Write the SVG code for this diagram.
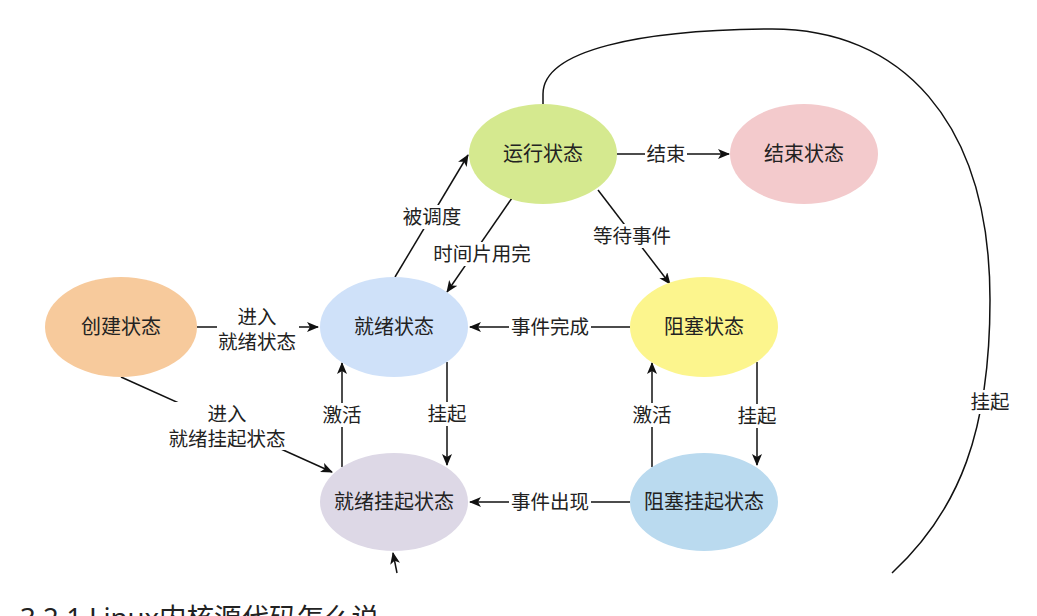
<svg xmlns="http://www.w3.org/2000/svg" width="1037" height="616" viewBox="0 0 1037 616">
<defs>
<marker id="arr" viewBox="0 0 12 10" refX="11" refY="5" markerWidth="12" markerHeight="10" markerUnits="userSpaceOnUse" orient="auto">
<path d="M0,0 L12,5 L0,10 L3,5 Z" fill="#111"/>
</marker>
<style>
.node text{font-family:"Noto Sans CJK SC","Noto Sans",sans-serif;font-size:20px;fill:#222;text-anchor:middle}
.edge{fill:none;stroke:#111;stroke-width:1.5}
.lbl{font-family:"Noto Sans CJK SC","Noto Sans",sans-serif;font-size:19.5px;fill:#222;text-anchor:middle}
.bg{fill:#fff}
</style>
</defs>
<rect width="1037" height="616" fill="#fff"/>

<g id="connectors">
<line class="edge" x1="197" y1="327" x2="318" y2="327" marker-end="url(#arr)"/>
<line class="edge" x1="121" y1="377" x2="332" y2="472" marker-end="url(#arr)"/>
<line class="edge" x1="395" y1="277" x2="468" y2="155" marker-end="url(#arr)"/>
<line class="edge" x1="512" y1="198" x2="447" y2="292" marker-end="url(#arr)"/>
<line class="edge" x1="617" y1="154" x2="729" y2="154" marker-end="url(#arr)"/>
<line class="edge" x1="598" y1="190" x2="670" y2="284" marker-end="url(#arr)"/>
<line class="edge" x1="630" y1="327" x2="470" y2="327" marker-end="url(#arr)"/>
<line class="edge" x1="447" y1="362" x2="447" y2="465" marker-end="url(#arr)"/>
<line class="edge" x1="342" y1="467" x2="342" y2="363" marker-end="url(#arr)"/>
<line class="edge" x1="630" y1="502" x2="470" y2="502" marker-end="url(#arr)"/>
<line class="edge" x1="757" y1="362" x2="757" y2="465" marker-end="url(#arr)"/>
<line class="edge" x1="652" y1="467" x2="652" y2="363" marker-end="url(#arr)"/>
<path class="edge" d="M543,104 L543,94 C543,50 640,30 770,29 C900,28 990,120 990,300 C990,430 960,510 892,573"/>
<line class="edge" x1="397" y1="573" x2="393" y2="553" marker-end="url(#arr)"/>

<rect class="bg" x="217" y="305" width="82" height="50"/>
<text class="lbl" x="257" y="324">进入</text>
<text class="lbl" x="257" y="349">就绪状态</text>

<rect class="bg" x="166" y="402" width="122" height="48"/>
<text class="lbl" x="227" y="421">进入</text>
<text class="lbl" x="227" y="446">就绪挂起状态</text>

<rect class="bg" x="400" y="205" width="64" height="24"/>
<text class="lbl" x="432" y="224">被调度</text>

<rect class="bg" x="431" y="242" width="102" height="24"/>
<text class="lbl" x="482" y="261">时间片用完</text>

<rect class="bg" x="645" y="142" width="42" height="24"/>
<text class="lbl" x="666" y="161">结束</text>

<rect class="bg" x="590" y="224" width="84" height="24"/>
<text class="lbl" x="632" y="243">等待事件</text>

<rect class="bg" x="509" y="315" width="82" height="24"/>
<text class="lbl" x="550" y="334">事件完成</text>

<rect class="bg" x="509" y="490" width="82" height="24"/>
<text class="lbl" x="550" y="509">事件出现</text>

<rect class="bg" x="426" y="402" width="42" height="24"/>
<text class="lbl" x="447" y="421">挂起</text>

<rect class="bg" x="321" y="403" width="42" height="24"/>
<text class="lbl" x="342" y="422">激活</text>

<rect class="bg" x="736" y="404" width="42" height="24"/>
<text class="lbl" x="757" y="423">挂起</text>

<rect class="bg" x="631" y="403" width="42" height="24"/>
<text class="lbl" x="652" y="422">激活</text>

<rect class="bg" x="969" y="390" width="42" height="24"/>
<text class="lbl" x="990" y="409">挂起</text>
</g>

<g id="node-create" class="node">
<ellipse cx="121" cy="327" rx="76" ry="50" fill="#F7CA9C"/>
<text x="121" y="334">创建状态</text>
</g>
<g id="node-ready" class="node">
<ellipse cx="394" cy="327" rx="74" ry="50" fill="#CFE1F9"/>
<text x="394" y="334">就绪状态</text>
</g>
<g id="node-ready-suspend" class="node">
<ellipse cx="394" cy="502" rx="74" ry="49" fill="#DDD8E6"/>
<text x="394" y="509">就绪挂起状态</text>
</g>
<g id="node-running" class="node">
<ellipse cx="543" cy="154" rx="74" ry="50" fill="#D5E98F"/>
<text x="543" y="161">运行状态</text>
</g>
<g id="node-end" class="node">
<ellipse cx="804" cy="154" rx="74" ry="50" fill="#F3CACC"/>
<text x="804" y="161">结束状态</text>
</g>
<g id="node-blocked" class="node">
<ellipse cx="704" cy="327" rx="74" ry="50" fill="#FCF58D"/>
<text x="704" y="334">阻塞状态</text>
</g>
<g id="node-blocked-suspend" class="node">
<ellipse cx="704" cy="502" rx="74" ry="49" fill="#BADAEF"/>
<text x="704" y="509">阻塞挂起状态</text>
</g>

<text x="20" y="628" font-family="'Noto Sans','Noto Sans CJK SC',sans-serif" font-size="27.5" fill="#222">3.2.1 Linux内核源代码怎么说</text>
</svg>
